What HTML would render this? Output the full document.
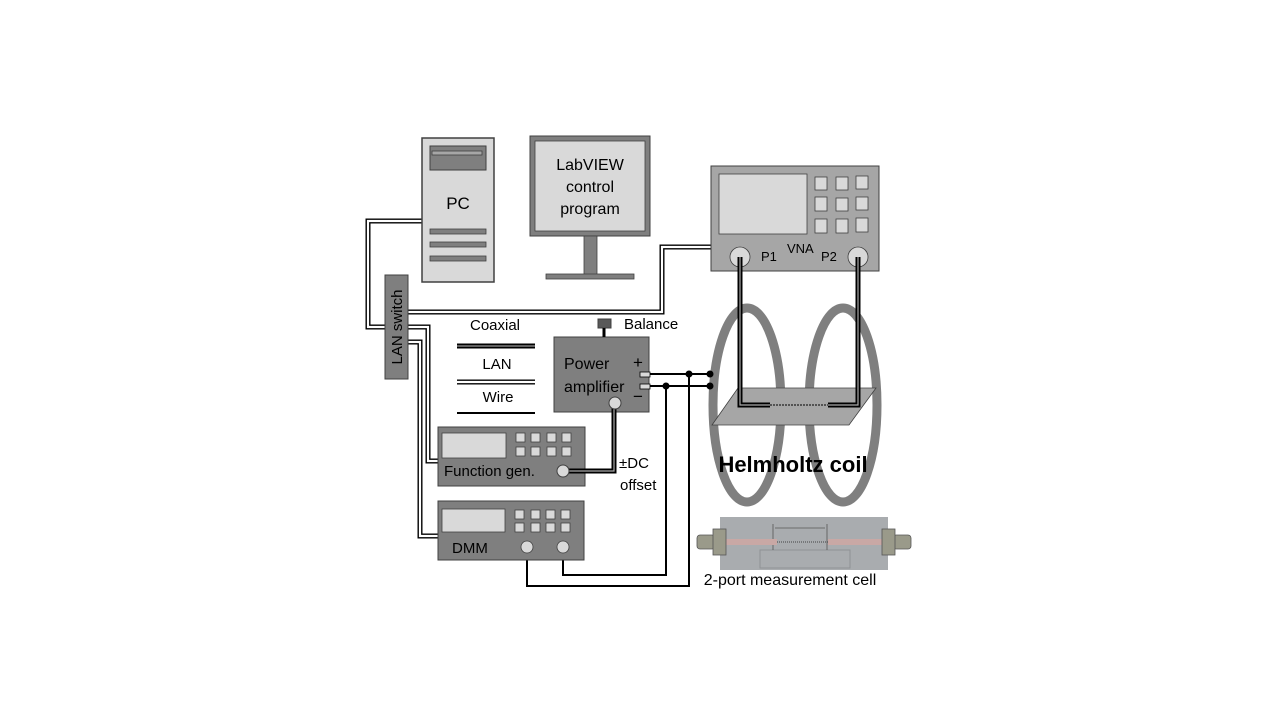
<!DOCTYPE html>
<html><head><meta charset="utf-8"><style>
html,body{margin:0;padding:0;background:#fff;}
svg text{font-family:"Liberation Sans",sans-serif;}
</style></head><body>
<svg width="1280" height="720" viewBox="0 0 1280 720" xmlns="http://www.w3.org/2000/svg">
<defs>
<g id="lan"></g>
</defs>
<!-- LAN cables (double lines) -->
<g fill="none" stroke="#000" stroke-width="5">
<path d="M422 221 H368 V327 H385"/>
<path d="M408 312 H662 V247 H711"/>
<path d="M408 327 H428 V461 H438"/>
<path d="M408 342 H420 V536 H438"/>
<path d="M457 382 H535"/>
</g>
<g fill="none" stroke="#fff" stroke-width="2.2">
<path d="M422 221 H368 V327 H385"/>
<path d="M408 312 H662 V247 H711"/>
<path d="M408 327 H428 V461 H438"/>
<path d="M408 342 H420 V536 H438"/>
<path d="M457 382 H535"/>
</g>
<!-- PC -->
<rect x="422" y="138" width="72" height="144" fill="#d9d9d9" stroke="#404040" stroke-width="1.5"/>
<rect x="430" y="146" width="56" height="24" fill="#7f7f7f" stroke="#404040"/>
<rect x="432" y="151" width="50" height="4" fill="#a6a6a6" stroke="#404040" stroke-width="0.8"/>
<rect x="430" y="229" width="56" height="5" fill="#7f7f7f" stroke="#404040" stroke-width="0.8"/>
<rect x="430" y="242" width="56" height="5" fill="#7f7f7f" stroke="#404040" stroke-width="0.8"/>
<rect x="430" y="256" width="56" height="5" fill="#7f7f7f" stroke="#404040" stroke-width="0.8"/>
<text x="458" y="209" font-size="17" text-anchor="middle">PC</text>
<!-- Monitor -->
<rect x="530" y="136" width="120" height="100" fill="#7f7f7f" stroke="#404040"/>
<rect x="535" y="141" width="110" height="90" fill="#d9d9d9" stroke="#404040" stroke-width="0.8"/>
<rect x="584" y="236" width="13" height="39" fill="#7f7f7f" stroke="#404040" stroke-width="0.8"/>
<rect x="546" y="274" width="88" height="5" fill="#7f7f7f" stroke="#404040" stroke-width="0.8"/>
<text x="590" y="170" font-size="16" text-anchor="middle">LabVIEW</text>
<text x="590" y="192" font-size="16" text-anchor="middle">control</text>
<text x="590" y="214" font-size="16" text-anchor="middle">program</text>
<!-- VNA -->
<rect x="711" y="166" width="168" height="105" fill="#a6a6a6" stroke="#404040"/>
<rect x="719" y="174" width="88" height="60" fill="#d9d9d9" stroke="#404040" stroke-width="0.8"/>
<g fill="#d9d9d9" stroke="#404040" stroke-width="0.8">
<rect x="815" y="177" width="12" height="13"/><rect x="836" y="177" width="12" height="13"/><rect x="856" y="176" width="12" height="13"/>
<rect x="815" y="197" width="12" height="14"/><rect x="836" y="198" width="12" height="13"/><rect x="856" y="197" width="12" height="13"/>
<rect x="815" y="219" width="12" height="14"/><rect x="836" y="219" width="12" height="14"/><rect x="856" y="218" width="12" height="14"/>
<circle cx="740" cy="257" r="10"/><circle cx="858" cy="257" r="10"/>
</g>
<text x="761" y="261" font-size="13">P1</text>
<text x="787" y="253" font-size="13">VNA</text>
<text x="821" y="261" font-size="13">P2</text>
<!-- LAN switch -->
<rect x="385" y="275" width="23" height="104" fill="#7f7f7f" stroke="#404040"/>
<text transform="translate(402,327) rotate(-90)" font-size="15" text-anchor="middle">LAN switch</text>
<!-- Legend -->
<text x="495" y="330" font-size="15" text-anchor="middle">Coaxial</text>
<text x="497" y="369" font-size="15" text-anchor="middle">LAN</text>
<text x="498" y="402" font-size="15" text-anchor="middle">Wire</text>
<path d="M457 346 H535" stroke="#000" stroke-width="5"/>
<path d="M457 346 H535" stroke="#999" stroke-width="1.2"/>
<path d="M457 413 H535" stroke="#000" stroke-width="2"/>
<!-- Helmholtz coils (back) -->
<ellipse cx="747" cy="405" rx="34" ry="97" fill="none" stroke="#7f7f7f" stroke-width="9"/>
<ellipse cx="843" cy="405" rx="34" ry="97" fill="none" stroke="#7f7f7f" stroke-width="9"/>
<polygon points="738,388 876,388 849,425 712,425" fill="#a6a6a6" stroke="#404040" stroke-width="0.8"/>
<!-- VNA coax -->
<g fill="none" stroke="#000" stroke-width="5">
<path d="M740 257 V405 H770"/><path d="M858 257 V405 H828"/>
</g>
<g fill="none" stroke="#aaa" stroke-width="1.2">
<path d="M740 257 V405 H770"/><path d="M858 257 V405 H828"/>
</g>
<path d="M770 405 H828" stroke="#000" stroke-width="1" stroke-dasharray="2,1"/>
<text x="793" y="472" font-size="22" font-weight="bold" text-anchor="middle">Helmholtz coil</text>
<!-- Power amplifier -->
<rect x="554" y="337" width="95" height="75" fill="#7f7f7f" stroke="#404040"/>
<rect x="598" y="319" width="13" height="9" fill="#595959" stroke="#404040"/>
<path d="M604 328 V337" stroke="#000" stroke-width="3"/>
<text x="624" y="329" font-size="15">Balance</text>
<text x="564" y="369" font-size="16">Power</text>
<text x="564" y="392" font-size="16">amplifier</text>
<text x="633" y="368" font-size="17">+</text>
<text x="633" y="402" font-size="17">−</text>
<rect x="640" y="372" width="10" height="5" fill="#d9d9d9" stroke="#000" stroke-width="0.8"/>
<rect x="640" y="384" width="10" height="5" fill="#d9d9d9" stroke="#000" stroke-width="0.8"/>
<!-- wires -->
<g fill="none" stroke="#000" stroke-width="2">
<path d="M650 374 H710"/><path d="M650 386 H710"/>
<path d="M689 374 V586 H527 V553"/>
<path d="M666 386 V575 H563 V553"/>
</g>
<g fill="#000"><circle cx="689" cy="374" r="3.5"/><circle cx="666" cy="386" r="3.5"/><circle cx="710" cy="374" r="3.5"/><circle cx="710" cy="386" r="3.5"/></g>
<!-- Function gen -->
<rect x="438" y="427" width="147" height="59" fill="#7f7f7f" stroke="#404040"/>
<rect x="442" y="433" width="64" height="25" fill="#d9d9d9" stroke="#404040" stroke-width="0.8"/>
<g fill="#d9d9d9" stroke="#404040" stroke-width="0.8">
<rect x="516" y="433" width="9" height="9"/><rect x="531" y="433" width="9" height="9"/><rect x="547" y="433" width="9" height="9"/><rect x="562" y="433" width="9" height="9"/>
<rect x="516" y="447" width="9" height="9"/><rect x="531" y="447" width="9" height="9"/><rect x="547" y="447" width="9" height="9"/><rect x="562" y="447" width="9" height="9"/>
</g>
<text x="444" y="476" font-size="15">Function gen.</text>
<!-- coax fn->amp -->
<path d="M563 471 H614 V403" fill="none" stroke="#000" stroke-width="5"/>
<path d="M563 471 H614 V403" fill="none" stroke="#aaa" stroke-width="1.2"/>
<circle cx="563" cy="471" r="6" fill="#d9d9d9" stroke="#404040"/>
<circle cx="615" cy="403" r="6" fill="#d9d9d9" stroke="#404040"/>
<text x="619" y="468" font-size="15">±DC</text>
<text x="620" y="490" font-size="15">offset</text>
<!-- DMM -->
<rect x="438" y="501" width="146" height="59" fill="#7f7f7f" stroke="#404040"/>
<rect x="442" y="509" width="63" height="23" fill="#d9d9d9" stroke="#404040" stroke-width="0.8"/>
<g fill="#d9d9d9" stroke="#404040" stroke-width="0.8">
<rect x="515" y="510" width="9" height="9"/><rect x="531" y="510" width="9" height="9"/><rect x="546" y="510" width="9" height="9"/><rect x="561" y="510" width="9" height="9"/>
<rect x="515" y="523" width="9" height="9"/><rect x="531" y="523" width="9" height="9"/><rect x="546" y="523" width="9" height="9"/><rect x="561" y="523" width="9" height="9"/>
<circle cx="527" cy="547" r="6"/><circle cx="563" cy="547" r="6"/>
</g>
<text x="452" y="553" font-size="15">DMM</text>
<!-- measurement cell -->
<rect x="720" y="517" width="168" height="53" fill="#a9acaf"/>
<rect x="760" y="550" width="90" height="18" fill="none" stroke="#8f9295" stroke-width="1"/>
<path d="M773 524 V550 M827 524 V550 M775 528 H825" stroke="#555" stroke-width="0.8"/>
<rect x="717" y="539" width="60" height="6" fill="#c9a8a5"/>
<rect x="828" y="539" width="55" height="6" fill="#c9a8a5"/>
<path d="M777 542 H828" stroke="#444" stroke-dasharray="1,1"/>
<g fill="#9a9a8a" stroke="#555" stroke-width="0.8">
<rect x="697" y="535" width="18" height="14" rx="3"/><rect x="893" y="535" width="18" height="14" rx="3"/>
<rect x="713" y="529" width="13" height="26"/><rect x="882" y="529" width="13" height="26"/>
</g>
<text x="790" y="585" font-size="16" text-anchor="middle">2-port measurement cell</text>
</svg>
</body></html>
